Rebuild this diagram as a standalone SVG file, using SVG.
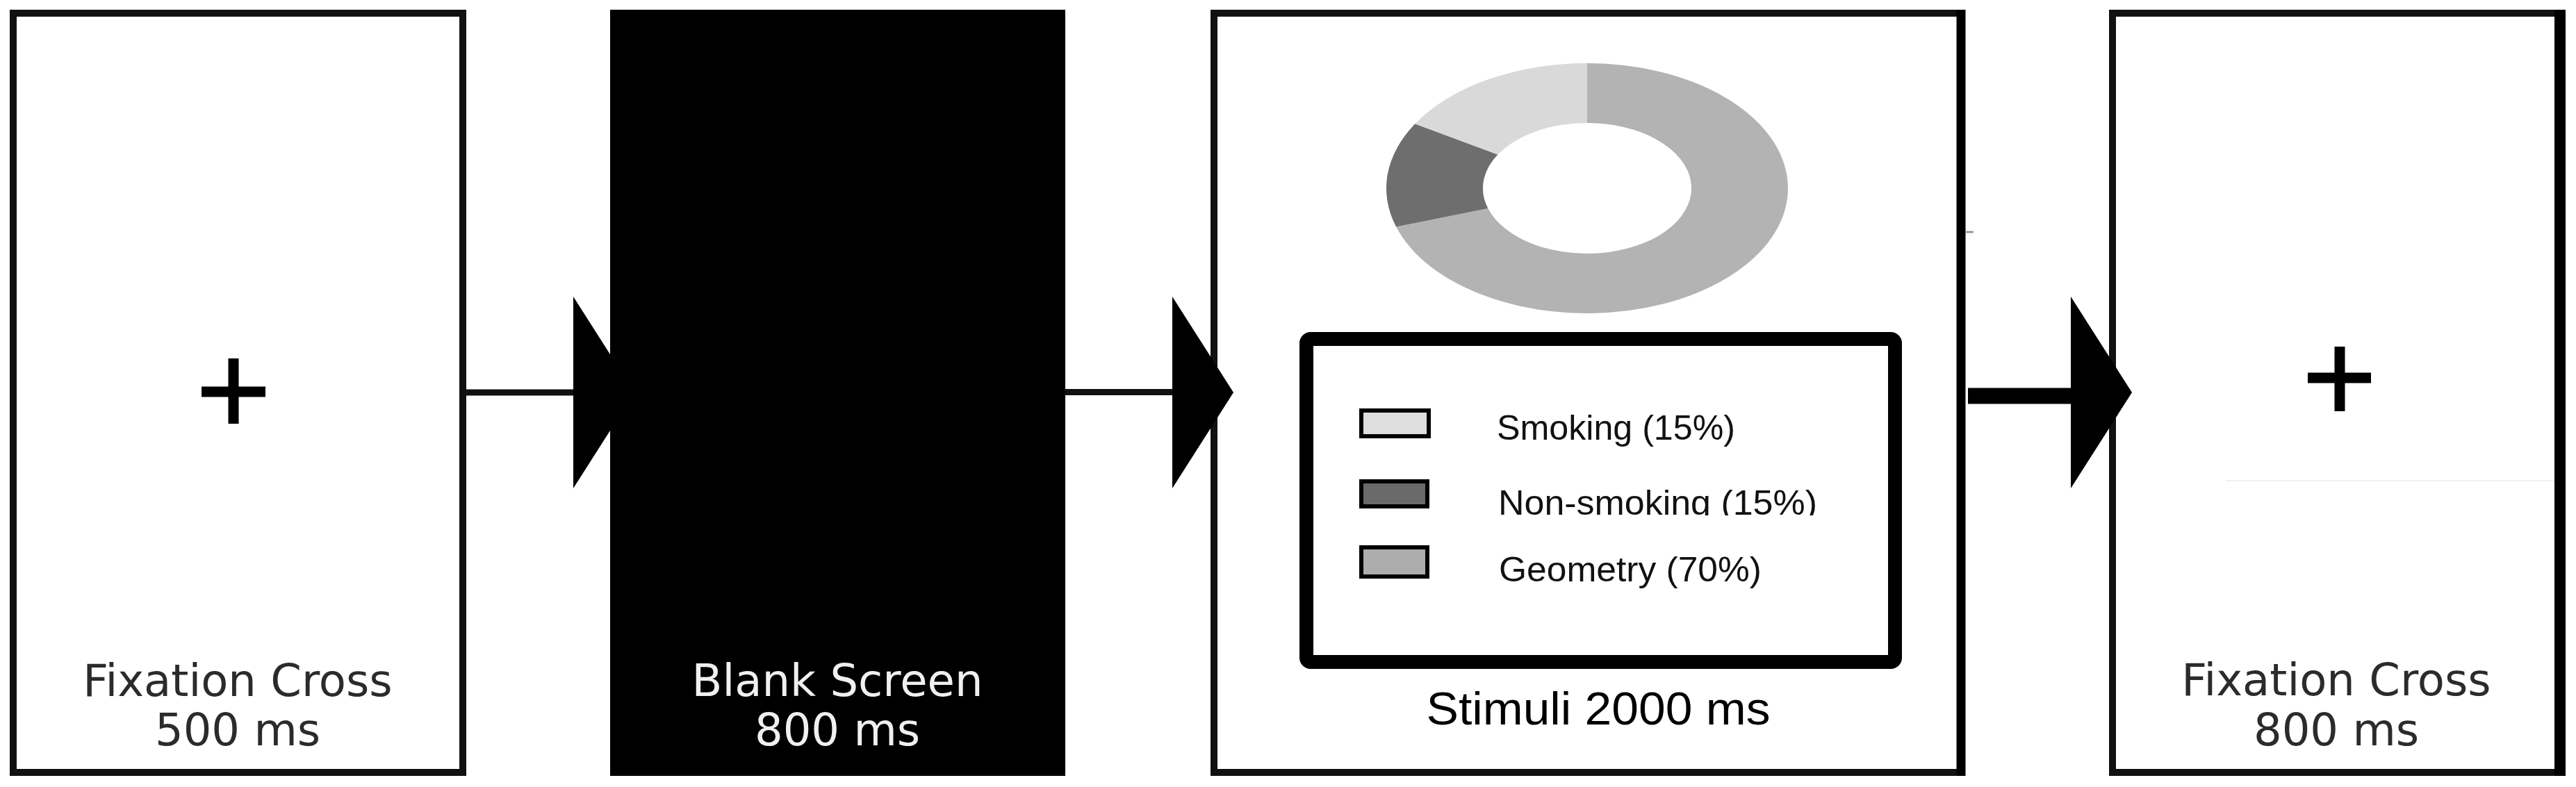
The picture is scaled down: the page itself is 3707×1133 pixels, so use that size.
<svg xmlns="http://www.w3.org/2000/svg" width="3707" height="1133" viewBox="0 0 3707 1133">
  <style>
    .frame { fill: #ffffff; stroke: #111111; stroke-width: 10; }
    .lbl { font-family: "DejaVu Sans", "Liberation Sans", sans-serif; font-size: 64px; text-anchor: middle; fill: #2b2b2b; }
    .lbl-w { fill: #f0f0f0; }
    .leg { font-family: "Liberation Sans", Arial, sans-serif; font-size: 50px; fill: #111111; }
    .cap { font-family: "Liberation Sans", Arial, sans-serif; font-size: 66px; fill: #000000; text-anchor: middle; }
    .cross { stroke: #000000; stroke-width: 15; stroke-linecap: butt; }
    .sw { stroke: #000000; stroke-width: 6; }
    .head { fill: #000000; }
  </style>
  <defs>
    <clipPath id="clipNS">
      <rect x="1890" y="680" width="830" height="62"/>
    </clipPath>
  </defs>

  <rect width="3707" height="1133" fill="#ffffff"/>

  <g id="node-fixation-1">
    <rect class="frame" x="19" y="19" width="647" height="1093"/>
    <line class="cross" x1="290" y1="564" x2="382" y2="564"/>
    <line class="cross" x1="336" y1="516" x2="336" y2="610"/>
    <text class="lbl" x="342" y="1002">Fixation Cross</text>
    <text class="lbl" x="342" y="1073">500 ms</text>
  </g>

  <g id="node-blank">
    <rect x="878" y="14" width="655" height="1103" fill="#000000"/>
    <text class="lbl lbl-w" x="1205" y="1002">Blank Screen</text>
    <text class="lbl lbl-w" x="1205" y="1073">800 ms</text>
  </g>

  <g id="node-stimuli">
    <rect class="frame" x="1747" y="19" width="1075" height="1093"/>
    <line x1="2822" y1="14" x2="2822" y2="1117" stroke="#000000" stroke-width="13"/>
    <line x1="2828" y1="334" x2="2840" y2="334" stroke="#999999" stroke-width="3"/>
    <g id="donut">
      <path fill="#b3b3b3" d="M 2284 91 A 289 180 0 1 1 2009.1 326.6 L 2141.3 300.0 A 150 94 0 1 0 2284 177 Z"/>
      <path fill="#6e6e6e" d="M 2009.1 326.6 A 289 180 0 0 1 2036.3 178.3 L 2155.4 222.6 A 150 94 0 0 0 2141.3 300.0 Z"/>
      <path fill="#d9d9d9" d="M 2036.3 178.3 A 289 180 0 0 1 2284 91 L 2284 177 A 150 94 0 0 0 2155.4 222.6 Z"/>
    </g>
    <g id="legend">
      <rect x="1880" y="488" width="847" height="465" rx="6" fill="#ffffff" stroke="#000000" stroke-width="20"/>
      <rect class="sw" x="1959" y="591" width="97" height="37" fill="#dedede"/>
      <rect class="sw" x="1959" y="693" width="95" height="36" fill="#6a6a6a"/>
      <rect class="sw" x="1959" y="788" width="95" height="42" fill="#adadad"/>
      <text class="leg" x="2154" y="633" textLength="343" lengthAdjust="spacingAndGlyphs">Smoking (15%)</text>
      <text class="leg" x="2156" y="741" textLength="459" lengthAdjust="spacingAndGlyphs" clip-path="url(#clipNS)">Non-smoking (15%)</text>
      <text class="leg" x="2157" y="837" textLength="378" lengthAdjust="spacingAndGlyphs">Geometry (70%)</text>
    </g>
    <text class="cap" x="2300" y="1043" textLength="495" lengthAdjust="spacingAndGlyphs">Stimuli 2000 ms</text>
  </g>

  <g id="node-fixation-2">
    <rect class="frame" x="3040" y="19" width="644" height="1093"/>
    <line x1="3684" y1="14" x2="3684" y2="1117" stroke="#000000" stroke-width="16"/>
    <line x1="3203" y1="692" x2="3676" y2="692" stroke="#f0f0f0" stroke-width="2"/>
    <line class="cross" x1="3321" y1="544" x2="3412" y2="544"/>
    <line class="cross" x1="3367" y1="499" x2="3367" y2="592"/>
    <text class="lbl" x="3362" y="1001">Fixation Cross</text>
    <text class="lbl" x="3362" y="1073">800 ms</text>
  </g>

  <g id="connectors">
    <line x1="671" y1="565" x2="830" y2="565" stroke="#111111" stroke-width="9"/>
    <polygon class="head" points="825,427 913,565 825,703"/>
    <line x1="1533" y1="564.5" x2="1692" y2="564.5" stroke="#111111" stroke-width="9"/>
    <polygon class="head" points="1687,427 1775,565 1687,703"/>
    <line x1="2832" y1="570" x2="2985" y2="570" stroke="#000000" stroke-width="23"/>
    <polygon class="head" points="2980,427 3068,565 2980,703"/>
  </g>
</svg>
